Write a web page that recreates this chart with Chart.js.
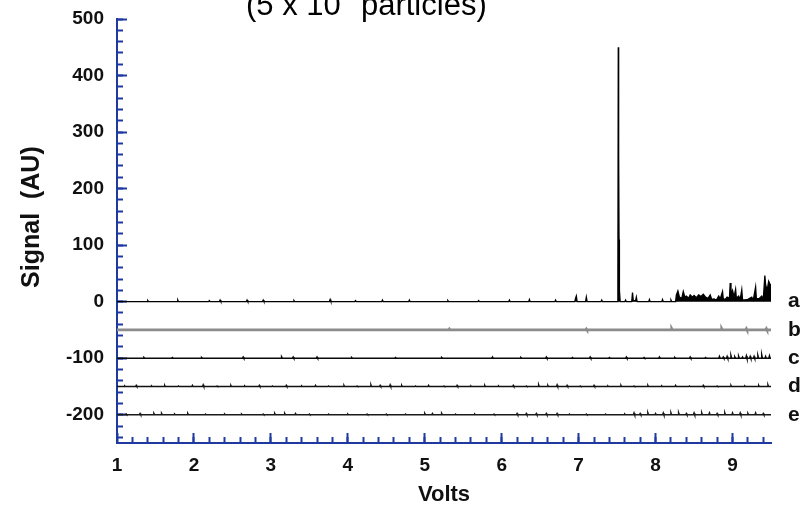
<!DOCTYPE html>
<html>
<head>
<meta charset="utf-8">
<script src="https://cdn.jsdelivr.net/npm/chart.js@4.4.1/dist/chart.umd.min.js"></script>
<style>
  html, body { margin: 0; padding: 0; background: #ffffff; }
  #wrap { width: 803px; height: 509px; }
</style>
</head>
<body>
<div id="wrap"><canvas id="c" width="803" height="509"></canvas></div>
<script>
// ---- chart text ----
const titleMain = "(5 x 10";
const titleExp = "4";
const titleRest = " particles)";
const xTitle = "Volts";
const yTitle = "Signal  (AU)";

// ---- tick labels ----
const xTickLabels = [1, 2, 3, 4, 5, 6, 7, 8, 9];
const yTickLabels = [-200, -100, 0, 100, 200, 300, 400, 500];
const traceLabels = ["a", "b", "c", "d", "e"];
const traceOffsets = [0, -50, -100, -150, -200];

// ---- trace a (Volts, signal) ----
const aX = [1.00,1.39,1.40,1.41,1.78,1.79,1.80,2.19,2.20,2.21,2.33,2.34,2.35,2.68,2.69,2.70,2.89,2.90,2.91,3.29,3.30,3.31,3.76,3.77,3.78,4.09,4.10,4.11,4.44,4.45,4.46,4.79,4.80,4.81,5.29,5.30,5.31,5.69,5.70,5.71,6.09,6.10,6.11,6.35,6.36,6.37,6.69,6.70,6.71,6.95,6.96,6.97,6.98,7.09,7.10,7.11,7.29,7.30,7.31,
  7.50,7.51,7.515,7.52,7.525,7.53,7.54,7.60,7.61,7.62,7.69,7.70,7.71,7.74,7.75,7.76,7.91,7.92,7.93,8.08,8.09,8.10,8.19,8.20,8.21,
  8.26,8.27,8.29,8.31,8.34,8.36,8.38,8.40,8.43,8.45,8.48,8.50,8.53,8.56,8.59,8.62,8.65,8.68,8.71,8.73,8.76,8.79,8.82,8.84,8.87,8.88,8.91,8.93,8.96,8.97,8.98,9.00,9.02,9.04,9.05,9.08,9.10,9.12,9.13,9.16,9.20,9.25,9.27,9.30,9.31,9.35,9.38,9.40,9.42,9.43,9.45,9.47,9.49,9.50];
const aY = [0,0,2,0,0,3,0,0,2,0,0,3,0,0,3,0,0,3,0,0,2,0,0,4,0,0,2,0,0,3,0,0,3,0,0,2,0,0,2,0,0,3,0,0,4,0,0,3,0,0,6,10,0,0,8,0,0,3,0,
  0,40,450,260,110,20,0,0,3,0,0,16,2,2,8,0,0,4,0,0,4,0,0,3,0,
  0,12,19,8,6,18,8,10,6,12,8,11,7,12,9,13,8,6,12,4,5,3,10,5,18,4,5,8,6,33,12,20,8,22,6,10,4,21,3,3,4,8,3,26,5,6,10,4,46,30,20,36,30,30];

// ---- traces b-e: spike positions (Volts) and spike heights on a flat baseline ----
const bPeakX = [5.32, 7.10, 8.21, 8.86, 9.18, 9.44];
const bPeakY = [1.5, 1.5, 2, 2, 2, 2];

const cPeakX = [1.35,1.72,2.10,2.64,3.14,3.29,3.60,4.05,4.62,5.22,5.88,6.25,6.58,6.92,7.15,7.40,7.62,7.85,8.05,8.25,8.45,8.65,8.83,8.88,8.93,8.98,9.03,9.08,9.13,9.18,9.23,9.28,9.33,9.38,9.43,9.48];
const cPeakY = [1,1,1,2,2,2,2,1,1,1,2,1,2,1,2,1,2,1,2,1,2,1,3,2,3,4,2,3,2,4,3,3,4,5,3,4];

const dPeakX = [1.10,1.25,1.45,1.62,1.80,1.98,2.12,2.30,2.48,2.66,2.85,3.02,3.20,3.40,3.58,3.75,3.95,4.12,4.30,4.42,4.55,4.70,4.88,5.05,5.25,5.42,5.60,5.78,5.96,6.15,6.32,6.48,6.60,6.72,6.85,7.02,7.20,7.38,7.55,7.72,7.90,8.08,8.26,8.44,8.62,8.80,8.98,9.16,9.34,9.46];
const dPeakY = [1,2,1,2,1,2,3,1,2,1,2,1,2,1,2,1,2,1,3,2,3,2,1,2,1,2,1,2,1,2,1,3,2,3,2,1,2,1,2,1,2,1,2,1,2,1,2,1,2,3];

const ePeakX = [1.12,1.30,1.48,1.58,1.75,1.92,2.15,2.40,2.62,2.90,3.05,3.18,3.32,3.50,3.75,4.00,4.25,4.50,4.75,5.00,5.10,5.22,5.40,5.65,5.90,6.20,6.32,6.45,6.58,6.72,6.88,7.10,7.35,7.60,7.72,7.80,7.90,8.00,8.10,8.20,8.30,8.40,8.50,8.60,8.70,8.80,8.90,9.00,9.10,9.20,9.30,9.40];
const ePeakY = [1,2,2,2,1,2,1,1,1,1,2,2,2,1,1,1,1,1,1,2,2,2,1,1,1,2,2,2,2,2,1,1,1,1,3,2,3,2,3,3,3,2,3,3,3,2,3,3,3,2,3,2];

// ---- build ----
const FONT = '"Liberation Sans", Arial, Helvetica, sans-serif';
const AXIS = '#1e3aa0';
const X_MIN = 1, X_MAX = 9.5;

function spikeTrace(px, py) {
  const pts = [{ x: X_MIN, y: 0 }];
  px.forEach((x, i) => {
    pts.push({ x: x - 0.008, y: 0 }, { x: x, y: py[i] }, { x: x + 0.008, y: 0 });
  });
  pts.push({ x: X_MAX, y: 0 });
  return pts;
}

const rawTraces = [
  aX.map((x, j) => ({ x: x, y: aY[j] })),
  spikeTrace(bPeakX, bPeakY),
  spikeTrace(cPeakX, cPeakY),
  spikeTrace(dPeakX, dPeakY),
  spikeTrace(ePeakX, ePeakY)
];
const colors = ['#000000', '#8c8c8c', '#0a0a0a', '#111111', '#1a1a1a'];
const widths = [1.3, 2.8, 1.6, 1.4, 1.6];

const datasets = rawTraces.map((pts, i) => ({
  label: traceLabels[i],
  data: pts.map(p => ({ x: p.x, y: p.y + traceOffsets[i] })),
  borderColor: colors[i],
  backgroundColor: colors[i],
  borderWidth: widths[i],
  pointRadius: 0,
  tension: 0,
  fill: i === 0 ? { value: 0 } : false,
  xAxisID: 'x',
  yAxisID: 'y'
}));

const xMinorTicks = [];
for (let k = 6; k <= 47; k++) xMinorTicks.push(k / 5);
const yMinorTicks = [];
for (let k = -240; k <= 500; k += 20) yMinorTicks.push(k);

const titlePlugin = {
  id: 'topTitle',
  afterDraw(chart) {
    const ctx = chart.ctx;
    ctx.save();
    ctx.fillStyle = '#000';
    ctx.textBaseline = 'alphabetic';
    ctx.textAlign = 'left';
    const big = '31px ' + FONT, small = '19px ' + FONT;
    let x = 246, y = 15;
    ctx.font = big;
    ctx.fillText(titleMain, x, y);
    x += ctx.measureText(titleMain).width + 1;
    ctx.font = small;
    ctx.fillText(titleExp, x, y - 16);
    x += ctx.measureText(titleExp).width;
    ctx.font = big;
    ctx.fillText(titleRest, x, y);
    ctx.restore();
  }
};

const tickFont = { family: FONT, size: 19, weight: 'bold' };
const noVPad = s => { s.paddingTop = 0; s.paddingBottom = 0; };

new Chart(document.getElementById('c'), {
  type: 'line',
  data: { datasets: datasets },
  plugins: [titlePlugin],
  options: {
    responsive: false,
    animation: false,
    devicePixelRatio: 1,
    layout: { padding: { top: 19, right: 0, left: 0, bottom: 0 } },
    plugins: { legend: { display: false }, tooltip: { enabled: false }, title: { display: false } },
    scales: {
      x: {
        type: 'linear', position: 'bottom', min: X_MIN, max: X_MAX, weight: 2,
        afterFit: s => { s.height = 66; },
        afterBuildTicks: s => { s.ticks = xTickLabels.map(v => ({ value: v })); },
        ticks: { autoSkip: false, maxRotation: 0, color: '#111', font: tickFont, padding: 21, callback: v => String(v) },
        grid: { drawOnChartArea: false, tickLength: -10, tickWidth: 2, tickColor: AXIS, color: AXIS },
        border: { color: AXIS, width: 2 },
        title: { display: true, text: xTitle, color: '#111', font: { family: FONT, size: 22, weight: 'bold' }, padding: { top: 0, bottom: 1 } }
      },
      xMinor: {
        type: 'linear', position: 'bottom', min: X_MIN, max: X_MAX, weight: 0,
        afterFit: s => { s.height = 0; },
        afterBuildTicks: s => { s.ticks = xMinorTicks.map(v => ({ value: v })); },
        ticks: { display: false },
        grid: { drawOnChartArea: false, tickLength: -6, tickWidth: 2, tickColor: AXIS, color: AXIS },
        border: { color: AXIS, width: 2 }
      },
      y: {
        type: 'linear', position: 'left', min: -250, max: 500, weight: 2,
        afterFit: s => { s.width = 117; noVPad(s); },
        afterBuildTicks: s => { s.ticks = yTickLabels.map(v => ({ value: v })); },
        ticks: { autoSkip: false, color: '#111', font: tickFont, padding: 23, callback: v => String(v) },
        grid: { drawOnChartArea: false, tickLength: -10, tickWidth: 2, tickColor: AXIS, color: AXIS },
        border: { color: AXIS, width: 2 },
        title: { display: true, text: '    ' + yTitle, color: '#111', font: { family: FONT, size: 25, weight: 'bold' }, padding: { top: 17, bottom: 0 } }
      },
      yMinor: {
        type: 'linear', position: 'left', min: -250, max: 500, weight: 0,
        afterFit: s => { s.width = 0; noVPad(s); },
        afterBuildTicks: s => { s.ticks = yMinorTicks.map(v => ({ value: v })); },
        ticks: { display: false },
        grid: { drawOnChartArea: false, tickLength: -6, tickWidth: 2, tickColor: AXIS, color: AXIS },
        border: { color: AXIS, width: 2 }
      },
      yLabels: {
        type: 'linear', position: 'right', min: -250, max: 500,
        afterFit: s => { s.width = 32; noVPad(s); },
        afterBuildTicks: s => { s.ticks = traceOffsets.map(v => ({ value: v })); },
        ticks: { autoSkip: false, color: '#111', font: { family: FONT, size: 21, weight: 'bold' }, padding: 9,
                 callback: v => traceLabels[traceOffsets.indexOf(v)] },
        grid: { display: false },
        border: { display: false }
      }
    }
  }
});
</script>
</body>
</html>
